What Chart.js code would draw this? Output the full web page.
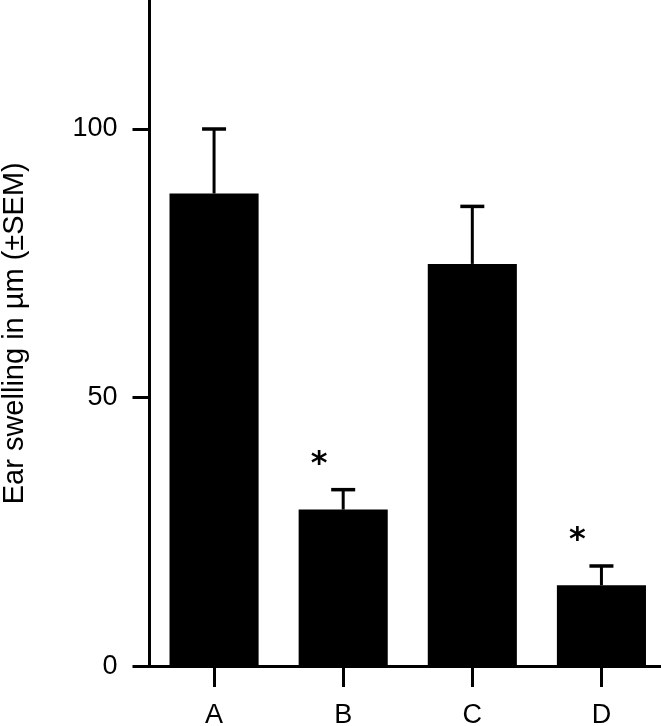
<html>
 <head>
   <meta charset="utf-8" />
   <title>Ear swelling</title>
   <style>
     body { margin: 0; background: #fff; overflow: hidden; }
     #wrap { width: 661px; height: 726px; overflow: hidden; }
   </style>
 </head>
 <body>
<div id="wrap">
  <canvas id="ex_chart" width="666" height="726"></canvas>
</div>

<script src="https://cdn.jsdelivr.net/npm/chart.js"></script>
<script>

// values
categories = ['A', 'B', 'C', 'D'];
means = [88, 29.2, 74.9, 15.1];
sems = [12, 3.7, 10.7, 3.6];
significant = [false, true, false, true];
yTicks = [0, 50, 100];
yMax = 124;

const fontFamily = "'Liberation Sans', Arial, Helvetica, sans-serif";
Chart.defaults.color = '#000';
Chart.defaults.font.family = fontFamily;

// error bars (mean + SEM) and significance stars
const errorBars = {
  id: 'errorBars',
  afterDatasetsDraw(chart) {
    const ctx = chart.ctx;
    const xs = chart.scales.x;
    const ys = chart.scales.y;
    ctx.save();
    ctx.strokeStyle = '#000';
    ctx.fillStyle = '#000';
    for (var i = 0; i < means.length; i++) {
      const x = xs.getPixelForValue(i);
      const yBar = ys.getPixelForValue(means[i]);
      const yTop = ys.getPixelForValue(means[i] + sems[i]);
      ctx.lineWidth = 3;
      ctx.beginPath();
      ctx.moveTo(x, yBar);
      ctx.lineTo(x, yTop);
      ctx.stroke();
      ctx.lineWidth = 3.5;
      ctx.beginPath();
      ctx.moveTo(x - 12, yTop);
      ctx.lineTo(x + 12, yTop);
      ctx.stroke();
      if (significant[i]) {
        ctx.font = "bold 32px 'DejaVu Sans'";
        const m = ctx.measureText('*');
        const cx = x - 24, cy = yTop - 32;
        const w = m.actualBoundingBoxRight + m.actualBoundingBoxLeft;
        const h = m.actualBoundingBoxAscent + m.actualBoundingBoxDescent;
        ctx.textAlign = 'left';
        ctx.textBaseline = 'alphabetic';
        ctx.fillText('*', cx - w / 2 + m.actualBoundingBoxLeft, cy + h / 2 - m.actualBoundingBoxDescent);
      }
    }
    ctx.restore();
  }
};

var ctx = document.getElementById('ex_chart');
var data = {
  labels: categories,
  datasets: [{
    data: means,
    backgroundColor: '#000',
    borderWidth: 0,
    barPercentage: 0.69,
    categoryPercentage: 1
  }]
};

var options = {
  responsive: false,
  animation: false,
  layout: { padding: 0 },
  plugins: { legend: { display: false }, tooltip: { enabled: false } },
  scales: {
    x: {
      offset: true,
      grid: { display: true, drawOnChartArea: false, offset: false, tickLength: 20.5, lineWidth: 3, color: '#000' },
      border: { display: true, width: 3, color: '#000' },
      ticks: { font: { size: 27 }, padding: 12, maxRotation: 0 },
      afterFit: function (s) { s.height = 59.5; s.paddingLeft = 0; s.paddingRight = 0; }
    },
    y: {
      min: 0,
      max: yMax,
      afterBuildTicks: function (s) { s.ticks = yTicks.map(function (v) { return { value: v }; }); },
      grid: { display: true, drawOnChartArea: false, tickLength: 17, lineWidth: 3, color: '#000' },
      border: { display: true, width: 3, color: '#000' },
      ticks: { font: { size: 27 }, padding: 15 },
      title: { display: true, text: 'Ear swelling in µm (±SEM)', font: { size: 29, lineHeight: 1 }, padding: 0 },
      afterFit: function (s) { s.width = 149.5; s.paddingTop = 0; s.paddingBottom = 0; }
    }
  }
};

var ex_chart = new Chart(ctx, {
  type: 'bar',
  data: data,
  options: options,
  plugins: [errorBars]
});

</script>
</body>
</html>
